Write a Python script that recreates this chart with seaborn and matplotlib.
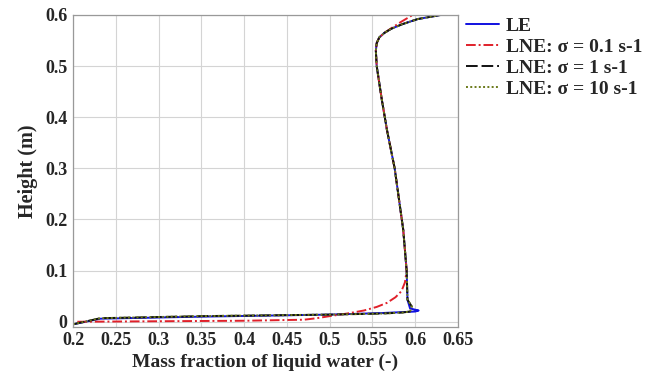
import pandas as pd
import seaborn as sns
import matplotlib.pyplot as plt

# values
le_x = [0.200, 0.232, 0.350, 0.500, 0.560, 0.600, 0.604, 0.594, 0.591, 0.590, 0.586,
        0.576, 0.567, 0.561, 0.555, 0.554, 0.555, 0.558, 0.564, 0.572, 0.585, 0.603, 0.630]
le_h = [-0.005, 0.006, 0.010, 0.014, 0.017, 0.020, 0.022, 0.026, 0.043, 0.100, 0.180,
        0.300, 0.375, 0.434, 0.500, 0.530, 0.545, 0.556, 0.565, 0.573, 0.582, 0.592, 0.600]

s01_x = [0.205, 0.300, 0.400, 0.470, 0.485, 0.500, 0.520, 0.540, 0.555, 0.567, 0.577,
         0.584, 0.588, 0.590, 0.586, 0.576, 0.567, 0.561, 0.555, 0.554, 0.555,
         0.558, 0.564, 0.572, 0.583, 0.597]
s01_h = [0.000, 0.001, 0.002, 0.004, 0.007, 0.011, 0.016, 0.022, 0.029, 0.037, 0.048,
         0.060, 0.077, 0.100, 0.180, 0.300, 0.375, 0.434, 0.500, 0.530, 0.545,
         0.556, 0.565, 0.574, 0.586, 0.600]

s1_x = [0.200, 0.232, 0.350, 0.500, 0.560, 0.585, 0.594, 0.596, 0.591, 0.590, 0.586,
        0.576, 0.567, 0.561, 0.555, 0.554, 0.555, 0.558, 0.564, 0.572, 0.585, 0.603, 0.630]
s1_h = [-0.005, 0.007, 0.011, 0.014, 0.016, 0.018, 0.020, 0.030, 0.043, 0.100, 0.180,
        0.300, 0.375, 0.434, 0.500, 0.530, 0.545, 0.556, 0.565, 0.573, 0.582, 0.592, 0.600]

s10_x = [0.200, 0.232, 0.350, 0.500, 0.560, 0.585, 0.594, 0.596, 0.591, 0.590, 0.586,
         0.576, 0.567, 0.561, 0.555, 0.554, 0.555, 0.558, 0.564, 0.572, 0.585, 0.603, 0.630]
s10_h = [-0.005, 0.007, 0.011, 0.014, 0.016, 0.018, 0.020, 0.030, 0.043, 0.100, 0.180,
         0.300, 0.375, 0.434, 0.500, 0.530, 0.545, 0.556, 0.565, 0.573, 0.582, 0.592, 0.600]

labels = ['LE', 'LNE: σ = 0.1 s-1', 'LNE: σ = 1 s-1', 'LNE: σ = 10 s-1']
x_ticks = [0.2, 0.25, 0.3, 0.35, 0.4, 0.45, 0.5, 0.55, 0.6, 0.65]
y_ticks = [0, 0.1, 0.2, 0.3, 0.4, 0.5, 0.6]

sns.set_theme(style='whitegrid')
plt.rcParams['font.family'] = ['Liberation Serif', 'DejaVu Serif']
plt.rcParams['font.weight'] = 'bold'

fig = plt.figure(figsize=(6.58, 3.74), dpi=100)
ax = fig.add_axes([0.111, 0.126, 0.585, 0.834])

series = [
    (le_x, le_h, '#1010e0', '-'),
    (s01_x, s01_h, '#e0202a', (0, (5, 1.5, 1, 1.5))),
    (s1_x, s1_h, '#111111', (0, (6, 2))),
    (s10_x, s10_h, '#6b7a1a', (0, (1, 1.2))),
]
for (xs, hs, col, ls), lab in zip(series, labels):
    df = pd.DataFrame({'x': xs, 'h': hs})
    sns.lineplot(data=df, x='x', y='h', sort=False, estimator=None, ax=ax,
                 color=col, linestyle=ls, linewidth=1.4, label=lab)

ax.set_xlim(0.2, 0.65)
ax.set_ylim(-0.01, 0.6)
ax.set_xticks(x_ticks)
ax.set_xticklabels(['0.2', '0.25', '0.3', '0.35', '0.4', '0.45', '0.5', '0.55', '0.6', '0.65'])
ax.set_yticks(y_ticks)
ax.set_yticklabels(['0', '0.1', '0.2', '0.3', '0.4', '0.5', '0.6'])
ax.tick_params(length=0, labelsize=13, pad=4)
for t in ax.get_xticklabels() + ax.get_yticklabels():
    t.set_fontweight('bold')
ax.grid(True, color='#d4d4d4', linewidth=0.8)
for sp in ax.spines.values():
    sp.set_color('#999999')
    sp.set_linewidth(0.9)

ax.set_xlabel('Mass fraction of liquid water (-)', fontsize=14, fontweight='bold', labelpad=3)
ax.set_ylabel('Height (m)', fontsize=14.5, fontweight='bold', labelpad=5)

ax.legend(loc='upper left', bbox_to_anchor=(0.99, 1.03), frameon=False,
          handlelength=1.7, handletextpad=0.35, labelspacing=0.18,
          borderaxespad=0.2, prop={'weight': 'bold', 'size': 14})

fig.savefig('out.png', dpi=100)
